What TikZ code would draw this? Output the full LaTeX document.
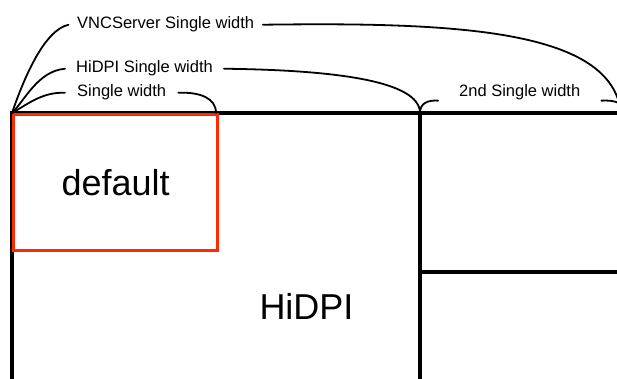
\documentclass[tikz,border=0pt]{standalone}
\usepackage{fontspec}
\setmainfont{Liberation Sans}
\definecolor{boxred}{RGB}{255,42,0}
\begin{document}
\begin{tikzpicture}[x=1pt,y=-1pt,
  wall/.style={line width=3.3pt},
  brace/.style={line width=1.8pt, line cap=round},
  lbl/.style={font=\fontsize{16.5}{18}\selectfont, inner ysep=0pt, anchor=base west},
  big/.style={font=\fontsize{36}{40}\selectfont, inner sep=0pt},
]
\useasboundingbox (0,0) rectangle (617,379);
\clip (0,0) rectangle (617,379);
\coordinate (tl) at (12,113);
\coordinate (mid) at (420,113);
\coordinate (tr) at (640,113);
\coordinate (bl) at (12,390);
\coordinate (mb) at (420,390);
\coordinate (ml) at (420,272);
\coordinate (mr) at (640,272);
\coordinate (e2) at (624,113);
\coordinate (eV) at (621,113);
\coordinate (sw) at (216,113);

\draw[wall] (tr) -- (tl) -- (bl);
\draw[wall] (mid) -- (mb);
\draw[wall] (ml) -- (mr);

\node[big, draw=boxred, line width=3.3pt, minimum width=204pt, minimum height=136pt, anchor=north west] (default) at (12,113) {default};
\node[big, anchor=base] (hidpi) at (306.5,319) {HiDPI};

\node[lbl, inner xsep=8.5pt] (vnc) at (68.5,29) {VNCServer Single width};
\node[lbl, inner xsep=11pt] (hd) at (65,73) {HiDPI Single width};
\node[lbl, inner xsep=12pt] (sg) at (65,97) {Single width};
\node[lbl, inner xsep=21pt] (nd) at (438,97) {2nd Single width};

\draw[brace] (tl) .. controls (25,75) and (45,30) .. (vnc.west);
\draw[brace] (vnc.east) .. controls (460,22) and (612,30) .. (eV);
\draw[brace] (tl) .. controls (25,100) and (38,71) .. (hd.west);
\draw[brace] (hd.east) .. controls (330,70) and (420,80) .. (mid);
\draw[brace] (tl) .. controls (28,104) and (42,92) .. (sg.west);
\draw[brace] (sg.east) .. controls (200,92) and (216,98) .. (sw);
\draw[brace] (mid) .. controls (420,103) and (428,100) .. (nd.south west);
\draw[brace] (nd.south east) .. controls (616,100) and (624,103) .. (e2);
\end{tikzpicture}
\end{document}
